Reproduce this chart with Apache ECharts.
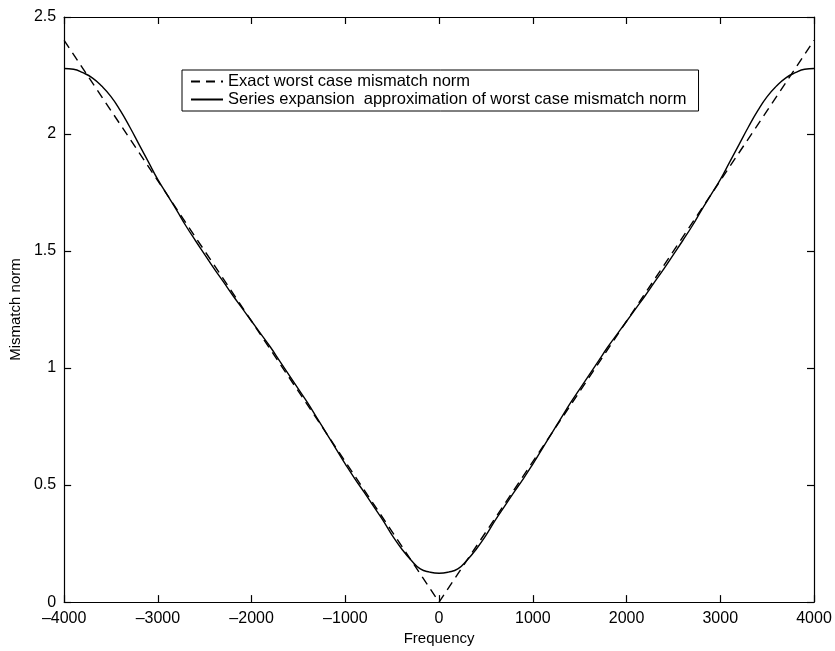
<!DOCTYPE html>
<html>
<head>
<meta charset="utf-8">
<script src="https://cdn.jsdelivr.net/npm/echarts@6/dist/echarts.min.js"></script>
<style>
html,body{margin:0;padding:0;background:#fff;}
#chart{width:835px;height:651px;}
</style>
</head>
<body>
<div id="chart"></div>
<script>
// Frequencies (x values) for the exact curve
const exactFreq = [-4000,-3500,-3000,-2500,-2000,-1500,-1000,-500,0,500,1000,1500,2000,2500,3000,3500,4000];
const exactNorm = [2.40,2.10,1.80,1.50,1.20,0.90,0.60,0.30,0.00,0.30,0.60,0.90,1.20,1.50,1.80,2.10,2.40];

// Frequencies for the series expansion approximation
const approxFreq = [-4000,-3900,-3800,-3700,-3600,-3500,-3400,-3300,-3200,-3100,-3000,-2900,-2800,-2700,-2600,-2500,-2400,-2300,-2200,-2100,-2000,-1900,-1800,-1700,-1600,-1500,-1400,-1300,-1200,-1100,-1000,-900,-800,-700,-600,-500,-400,-300,-200,-100,0,100,200,300,400,500,600,700,800,900,1000,1100,1200,1300,1400,1500,1600,1700,1800,1900,2000,2100,2200,2300,2400,2500,2600,2700,2800,2900,3000,3100,3200,3300,3400,3500,3600,3700,3800,3900,4000];
const approxNorm = [2.280,2.277,2.262,2.240,2.205,2.160,2.100,2.030,1.955,1.880,1.805,1.740,1.675,1.607,1.545,1.485,1.425,1.368,1.310,1.255,1.200,1.145,1.090,1.030,0.970,0.910,0.850,0.785,0.720,0.655,0.590,0.528,0.470,0.410,0.350,0.285,0.228,0.180,0.142,0.128,0.123,0.128,0.142,0.180,0.228,0.285,0.350,0.410,0.470,0.528,0.590,0.655,0.720,0.785,0.850,0.910,0.970,1.030,1.090,1.145,1.200,1.255,1.310,1.368,1.425,1.485,1.545,1.607,1.675,1.740,1.805,1.880,1.955,2.030,2.100,2.160,2.205,2.240,2.262,2.277,2.280];

const xTicks = [-4000,-3000,-2000,-1000,0,1000,2000,3000,4000];
const yTicks = [0,0.5,1,1.5,2,2.5];

const seriesNames = ['Exact worst case mismatch norm','Series expansion  approximation of worst case mismatch norm'];

const FONT = 'Liberation Sans, Arial, Helvetica, sans-serif';
const chart = echarts.init(document.getElementById('chart'), null, {renderer:'canvas'});

const fmtX = v => (v < 0 ? '\u2013' + Math.abs(v) : String(v));
const fmtY = v => String(v);

const axisLineStyle = {color:'#000', width:1.2};

chart.setOption({
  animation:false,
  backgroundColor:'#fff',
  grid:{left:63, right:21, top:17, bottom:44, containLabel:false},
  legend:{
    orient:'vertical',
    left:182, top:70,
    backgroundColor:'#fff',
    borderColor:'#000', borderWidth:1,
    padding:[3,12,3,8],
    itemGap:1,
    itemWidth:32, itemHeight:14,
    itemStyle:{opacity:0},
    textStyle:{fontFamily:FONT, fontSize:16.5, color:'#000'},
    data:seriesNames.map(n=>({name:n}))
  },
  xAxis:[{
    type:'value', min:-4000, max:4000, interval:1000,
    position:'bottom',
    axisLine:{show:true, onZero:false, lineStyle:axisLineStyle},
    axisTick:{show:true, inside:true, length:7, lineStyle:axisLineStyle},
    axisLabel:{fontFamily:FONT, fontSize:16, color:'#000', margin:8, formatter:fmtX},
    splitLine:{show:false},
    name:'Frequency', nameLocation:'middle', nameGap:27,
    nameTextStyle:{fontFamily:FONT, fontSize:15, color:'#000'}
  },{
    type:'value', min:-4000, max:4000, interval:1000,
    position:'top',
    axisLine:{show:true, onZero:false, lineStyle:axisLineStyle},
    axisTick:{show:true, inside:true, length:7, lineStyle:axisLineStyle},
    axisLabel:{show:false},
    splitLine:{show:false}
  }],
  yAxis:[{
    type:'value', min:0, max:2.5, interval:0.5,
    position:'left',
    axisLine:{show:true, onZero:false, lineStyle:axisLineStyle},
    axisTick:{show:true, inside:true, length:7, lineStyle:axisLineStyle},
    axisLabel:{fontFamily:FONT, fontSize:16, color:'#000', margin:8, formatter:fmtY},
    splitLine:{show:false},
    name:'Mismatch norm', nameLocation:'middle', nameGap:36, nameRotate:90,
    nameTextStyle:{fontFamily:FONT, fontSize:15, color:'#000'}
  },{
    type:'value', min:0, max:2.5, interval:0.5,
    position:'right',
    axisLine:{show:true, onZero:false, lineStyle:axisLineStyle},
    axisTick:{show:true, inside:true, length:7, lineStyle:axisLineStyle},
    axisLabel:{show:false},
    splitLine:{show:false}
  }],
  series:[{
    name:seriesNames[0],
    type:'line',
    xAxisIndex:0, yAxisIndex:0,
    data:exactFreq.map((f,i)=>[f, exactNorm[i]]),
    symbol:'none', smooth:false,
    lineStyle:{color:'#000', width:1.4, type:[9,6]},
    itemStyle:{color:'#000'},
    z:3
  },{
    name:seriesNames[1],
    type:'line',
    xAxisIndex:0, yAxisIndex:0,
    data:approxFreq.map((f,i)=>[f, approxNorm[i]]),
    symbol:'none', smooth:true,
    lineStyle:{color:'#000', width:1.4, type:'solid'},
    itemStyle:{color:'#000'},
    z:4
  }]
});
</script>
</body>
</html>
